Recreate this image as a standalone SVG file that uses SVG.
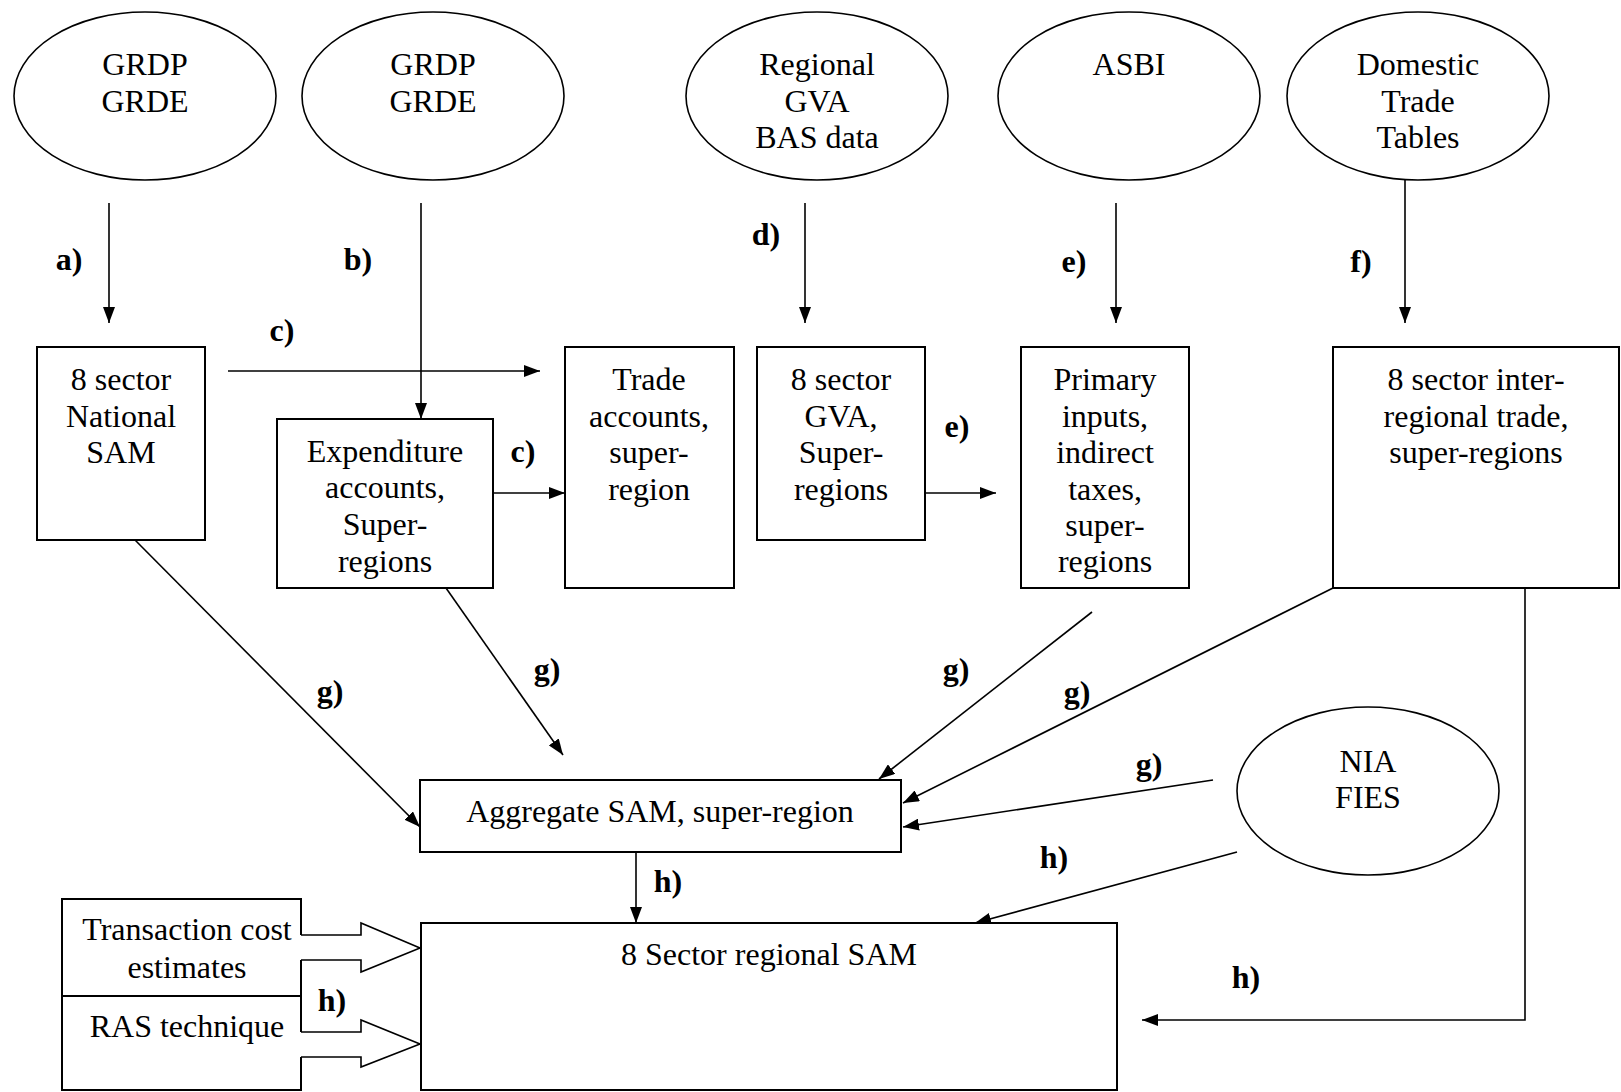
<svg xmlns="http://www.w3.org/2000/svg" width="1621" height="1092" viewBox="0 0 1621 1092">
<defs>
<marker id="ah" markerUnits="userSpaceOnUse" markerWidth="16" markerHeight="12" refX="16" refY="6" orient="auto">
<path d="M0,0 L16,6 L0,12 Z" fill="#000"/>
</marker>
<style>
.t{font-family:"Liberation Serif","Times New Roman",serif;font-size:32px;fill:#000;text-anchor:middle}
.l{font-family:"Liberation Serif","Times New Roman",serif;font-size:32px;font-weight:bold;fill:#000;text-anchor:middle}
.box{fill:#fff;stroke:#000;stroke-width:2}
.ell{fill:#fff;stroke:#000;stroke-width:1.6}
.c{fill:none;stroke:#000;stroke-width:1.6}
.ca{fill:none;stroke:#000;stroke-width:1.6;marker-end:url(#ah)}
</style>
</defs>
<rect width="1621" height="1092" fill="#fff"/>

<g id="connectors">
<line class="ca" x1="109" y1="203" x2="109" y2="323"/>
<line class="ca" x1="421" y1="203" x2="421" y2="419"/>
<line class="ca" x1="805" y1="203" x2="805" y2="323"/>
<line class="ca" x1="1116" y1="203" x2="1116" y2="323"/>
<line class="ca" x1="1405" y1="180" x2="1405" y2="323"/>
<line class="ca" x1="228" y1="371" x2="540" y2="371"/>
<line class="ca" x1="493" y1="493" x2="565" y2="493"/>
<line class="ca" x1="925" y1="493" x2="996" y2="493"/>
<line class="ca" x1="135" y1="540" x2="420" y2="827"/>
<line class="ca" x1="446" y1="588" x2="563" y2="755"/>
<line class="ca" x1="1092" y1="612" x2="879" y2="779"/>
<line class="ca" x1="1333" y1="588" x2="903" y2="803"/>
<line class="ca" x1="1213" y1="780" x2="903" y2="827"/>
<line class="ca" x1="636" y1="852" x2="636" y2="923"/>
<line class="ca" x1="1237" y1="852" x2="975" y2="923"/>
<polyline class="ca" points="1525,588 1525,1020 1142,1020"/>
<polyline class="c" points="301,935 361,935 361,923 420,948 361,972 361,960 301,960"/>
<polyline class="c" points="301,1032 361,1032 361,1020 420,1044 361,1067 361,1057 301,1057"/>
</g>

<g id="e-grdp1"><ellipse class="ell" cx="145" cy="96" rx="131" ry="84"/><text class="t" x="145" y="75">GRDP</text><text class="t" x="145" y="111.5">GRDE</text></g>
<g id="e-grdp2"><ellipse class="ell" cx="433" cy="96" rx="131" ry="84"/><text class="t" x="433" y="75">GRDP</text><text class="t" x="433" y="111.5">GRDE</text></g>
<g id="e-gva"><ellipse class="ell" cx="817" cy="96" rx="131" ry="84"/><text class="t" x="817" y="75">Regional</text><text class="t" x="817" y="111.5">GVA</text><text class="t" x="817" y="148">BAS data</text></g>
<g id="e-asbi"><ellipse class="ell" cx="1129" cy="96" rx="131" ry="84"/><text class="t" x="1129" y="75">ASBI</text></g>
<g id="e-dtt"><ellipse class="ell" cx="1418" cy="96" rx="131" ry="84"/><text class="t" x="1418" y="75">Domestic</text><text class="t" x="1418" y="111.5">Trade</text><text class="t" x="1418" y="148">Tables</text></g>
<g id="e-nia"><ellipse class="ell" cx="1368" cy="791" rx="131" ry="84"/><text class="t" x="1368" y="772">NIA</text><text class="t" x="1368" y="808">FIES</text></g>

<g id="b-natsam"><rect class="box" x="37" y="347" width="168" height="193"/><text class="t" x="121" y="390">8 sector</text><text class="t" x="121" y="426.5">National</text><text class="t" x="121" y="463">SAM</text></g>
<g id="b-exp"><rect class="box" x="277" y="419" width="216" height="169"/><text class="t" x="385" y="461.5">Expenditure</text><text class="t" x="385" y="498">accounts,</text><text class="t" x="385" y="535">Super-</text><text class="t" x="385" y="571.5">regions</text></g>
<g id="b-trade"><rect class="box" x="565" y="347" width="169" height="241"/><text class="t" x="649" y="390">Trade</text><text class="t" x="649" y="426.5">accounts,</text><text class="t" x="649" y="463">super-</text><text class="t" x="649" y="499.5">region</text></g>
<g id="b-gva"><rect class="box" x="757" y="347" width="168" height="193"/><text class="t" x="841" y="390">8 sector</text><text class="t" x="841" y="426.5">GVA,</text><text class="t" x="841" y="463">Super-</text><text class="t" x="841" y="499.5">regions</text></g>
<g id="b-prim"><rect class="box" x="1021" y="347" width="168" height="241"/><text class="t" x="1105" y="390">Primary</text><text class="t" x="1105" y="426.5">inputs,</text><text class="t" x="1105" y="463">indirect</text><text class="t" x="1105" y="499.5">taxes,</text><text class="t" x="1105" y="536">super-</text><text class="t" x="1105" y="572">regions</text></g>
<g id="b-inter"><rect class="box" x="1333" y="347" width="286" height="241"/><text class="t" x="1476" y="390">8 sector inter-</text><text class="t" x="1476" y="426.5">regional trade,</text><text class="t" x="1476" y="463">super-regions</text></g>
<g id="b-agg"><rect class="box" x="420" y="780" width="481" height="72"/><text class="t" x="660" y="822">Aggregate SAM, super-region</text></g>
<g id="b-reg"><rect class="box" x="421" y="923" width="696" height="167"/><text class="t" x="769" y="965">8 Sector regional SAM</text></g>
<g id="b-left"><path class="c" style="stroke-width:2" d="M301,935 V899 H62 V1090 H301 V1057 M301,960 V1032 M62,996 H301"/><text class="t" x="187" y="940">Transaction cost</text><text class="t" x="187" y="978">estimates</text><text class="t" x="187" y="1037">RAS technique</text></g>

<g id="labels">
<text class="l" x="69" y="270">a)</text>
<text class="l" x="358" y="270">b)</text>
<text class="l" x="282" y="341">c)</text>
<text class="l" x="523" y="461.5">c)</text>
<text class="l" x="766" y="245">d)</text>
<text class="l" x="1074" y="271.5">e)</text>
<text class="l" x="957" y="436.5">e)</text>
<text class="l" x="1361" y="271.5">f)</text>
<text class="l" x="330" y="702">g)</text>
<text class="l" x="547" y="680">g)</text>
<text class="l" x="956" y="680">g)</text>
<text class="l" x="1077" y="703">g)</text>
<text class="l" x="1149" y="775">g)</text>
<text class="l" x="668" y="892">h)</text>
<text class="l" x="1054" y="868">h)</text>
<text class="l" x="1246" y="988">h)</text>
<text class="l" x="332" y="1011">h)</text>
</g>
</svg>
